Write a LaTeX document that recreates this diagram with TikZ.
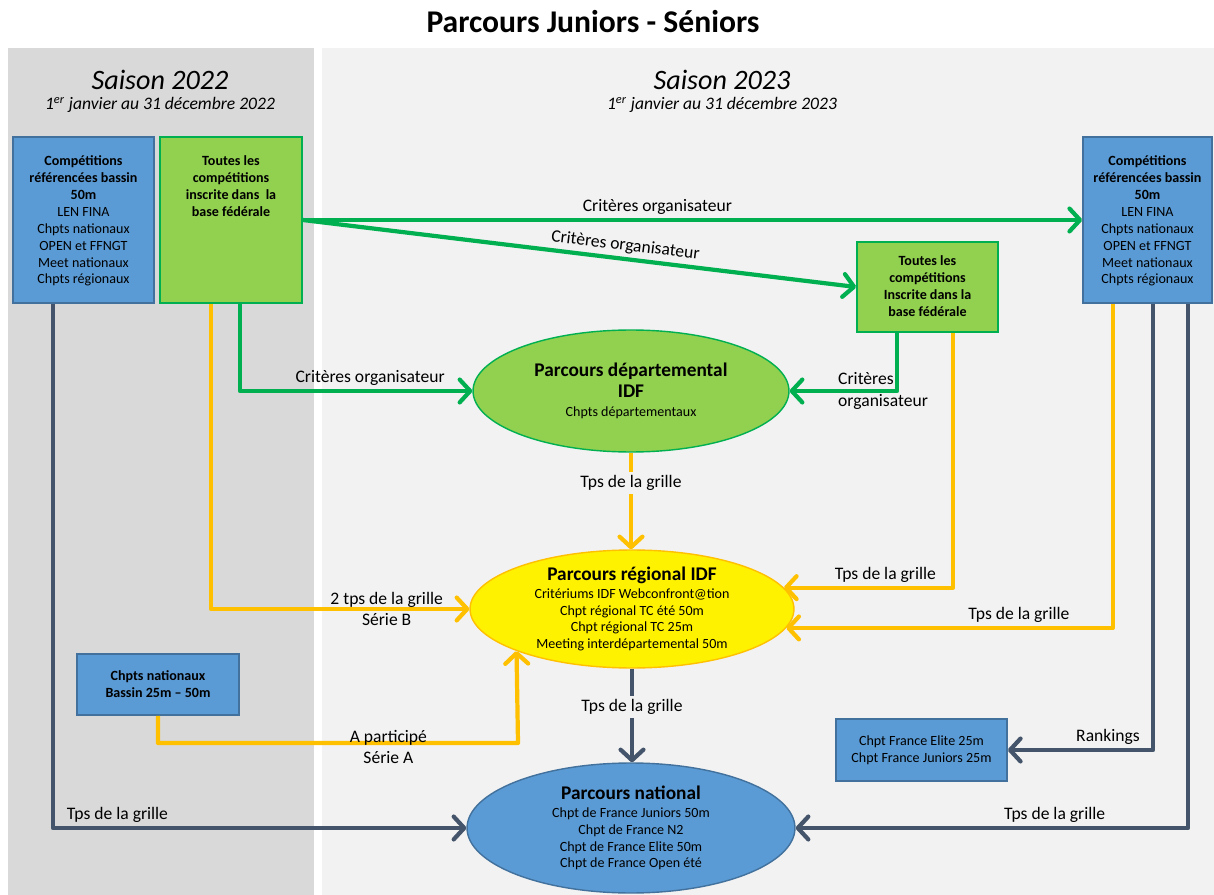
\documentclass[tikz,border=0pt]{standalone}
\usepackage{fontspec}
\setmainfont{Carlito}
\usetikzlibrary{calc}
\usetikzlibrary{arrows.meta}
\usetikzlibrary{shapes.geometric}

\definecolor{panelA}{HTML}{D9D9D9}
\definecolor{panelB}{HTML}{F2F2F2}
\definecolor{blueFill}{HTML}{5B9BD5}
\definecolor{blueLine}{HTML}{41719C}
\definecolor{greenFill}{HTML}{92D050}
\definecolor{greenLine}{HTML}{00B050}
\definecolor{orangeLine}{HTML}{FFC000}
\definecolor{slateLine}{HTML}{44546A}

\newcommand\boxfont{\fontsize{8}{9.6}\selectfont}
\newcommand\lblfont{\fontsize{10}{12}\selectfont}
\newcommand\ovalfont{\fontsize{11}{11.3}\selectfont\bfseries}

\tikzset{
  bluebox/.style={draw=blueLine, fill=blueFill, line width=1pt, inner sep=0pt},
  greenbox/.style={draw=greenLine, fill=greenFill, line width=1pt, inner sep=0pt},
  boxtext/.style={anchor=north, align=center, inner sep=0pt, font=\boxfont},
  oval/.style={ellipse, inner sep=0pt, line width=0.8pt},
  ovaltext/.style={align=center, inner sep=0pt, font=\boxfont},
  link/.style={line width=2.4pt, line join=round, -{Straight Barb[length=6pt,width=13pt,round]}},
  lbl/.style={font=\lblfont, text=black, inner sep=2pt},
}

\begin{document}
\begin{tikzpicture}[x=0.02cm, y=-0.02cm]

\useasboundingbox (0,0) rectangle (1214,895);
\fill[panelA] (8,48) rectangle (314,895);
\fill[panelB] (322,48) rectangle (1214,895);

\node (title) at (593,22) {\fontsize{18}{20}\selectfont\bfseries Parcours Juniors - Séniors};
\node (season22) at (160,80) {\fontsize{16}{18}\selectfont\itshape Saison 2022};
\node (dates22) at (160,105) {\lblfont\itshape 1\textsuperscript{er} janvier au 31 décembre 2022};
\node (season23) at (722,80) {\fontsize{16}{18}\selectfont\itshape Saison 2023};
\node (dates23) at (722,105) {\lblfont\itshape 1\textsuperscript{er} janvier au 31 décembre 2023};

\node[bluebox, minimum width=2.82cm, minimum height=3.32cm] (boxA) at (83.5,220) {};
\node[boxtext, yshift=-0.39cm] (boxAtxt) at (boxA.north) {\textbf{Compétitions}\\\textbf{référencées bassin}\\\textbf{50m}\\LEN FINA\\Chpts nationaux\\OPEN et FFNGT\\Meet nationaux\\Chpts régionaux};

\node[greenbox, minimum width=2.84cm, minimum height=3.32cm] (boxB) at (231,220) {};
\node[boxtext, font=\boxfont\bfseries, yshift=-0.39cm] (boxBtxt) at (boxB.north) {Toutes les\\compétitions\\inscrite dans~~la\\base fédérale};

\node[bluebox, minimum width=2.58cm, minimum height=3.32cm] (boxC) at (1147.5,220) {};
\node[boxtext, yshift=-0.39cm] (boxCtxt) at (boxC.north) {\textbf{Compétitions}\\\textbf{référencées bassin}\\\textbf{50m}\\LEN FINA\\Chpts nationaux\\OPEN et FFNGT\\Meet nationaux\\Chpts régionaux};

\node[greenbox, minimum width=2.82cm, minimum height=1.8cm] (boxD) at (927.5,287) {};
\node[boxtext, font=\boxfont\bfseries, yshift=-0.29cm] (boxDtxt) at (boxD.north) {Toutes les\\compétitions\\Inscrite dans la\\base fédérale};

\node[bluebox, minimum width=3.24cm, minimum height=1.22cm] (boxE) at (158,684.5) {};
\node[ovaltext, font=\boxfont\bfseries] (boxEtxt) at (boxE.center) {Chpts nationaux\\Bassin 25m -- 50m};

\node[bluebox, minimum width=3.42cm, minimum height=1.24cm] (boxF) at (921.5,750) {};
\node[ovaltext] (boxFtxt) at (boxF.center) {Chpt France Elite 25m\\Chpt France Juniors 25m};

\node[oval, draw=greenLine, fill=greenFill, minimum width=6.32cm, minimum height=2.44cm] (dep) at (631,391) {};
\node[ovaltext] (depTxt) at (dep.center) {{\ovalfont Parcours départemental}\\[2pt]{\ovalfont IDF}\\[1.5pt]Chpts départementaux};

\node[oval, draw=orangeLine, fill=yellow, minimum width=6.48cm, minimum height=2.36cm] (reg) at (632,609) {};
\node[ovaltext] (regTxt) at (reg.center) {{\ovalfont Parcours régional IDF}\\[0.6pt]Critériums IDF Webconfront@tion\\Chpt régional TC été 50m\\Chpt régional TC 25m\\Meeting interdépartemental 50m};

\node[oval, draw=blueLine, fill=blueFill, minimum width=6.56cm, minimum height=2.6cm] (nat) at (631,828) {};
\node[ovaltext] (natTxt) at (nat.center) {{\ovalfont Parcours national}\\[0.6pt]Chpt de France Juniors 50m\\Chpt de France N2\\Chpt de France Elite 50m\\Chpt de France Open été};

\draw[link, greenLine] (boxB.east) -- (boxC.west) node[lbl, above, pos=0.455] {Critères organisateur};
\draw[link, greenLine] (boxB.east) -- (boxD.west) node[lbl, above, sloped, pos=0.58] {Critères organisateur};
\draw[link, greenLine] ($(boxB.south)+(9,0)$) |- (dep.west) node[lbl, above, pos=0.78] {Critères organisateur};
\draw[link, greenLine] ($(boxD.south)+(-30.5,0)$) |- (dep.east) node[lbl, anchor=west, align=left, pos=0.8] {Critères\\organisateur};

\draw[link, orangeLine] (dep.south) -- (dep.south |- reg.north) node[lbl, fill=panelB, pos=0.31] {Tps de la grille};
\draw[link, orangeLine] ($(boxB.south)+(-20,0)$) |- (reg.west) node[lbl, align=center, pos=0.84] {2 tps de la grille\\Série B};
\draw[link, orangeLine] ($(boxD.south)+(25.5,0)$) |- (reg.8.3) node[lbl, above, pos=0.7] {Tps de la grille};
\draw[link, orangeLine] ($(boxC.south)+(-34.5,0)$) |- (reg.-7.9) node[lbl, above, pos=0.644] {Tps de la grille};
\coordinate (aPart) at (518,743);
\draw[link, orangeLine] (boxE.south) |- node[lbl, align=center, pos=0.82, yshift=-2.5pt] {A participé\\Série A} (aPart) -- (reg.200.2);

\draw[link, slateLine] ($(boxA.south)+(-30.5,0)$) |- (nat.west) node[lbl, above, pos=0.578] {Tps de la grille};
\draw[link, slateLine] (reg.south) -- (reg.south |- nat.north) node[lbl, fill=panelB, pos=0.41] {Tps de la grille};
\draw[link, slateLine] ($(boxC.south)+(5.5,0)$) |- (boxF.east) node[lbl, above, pos=0.655] {Rankings};
\draw[link, slateLine] ($(boxC.south)+(40.5,0)$) |- (nat.east) node[lbl, above, pos=0.67] {Tps de la grille};

\end{tikzpicture}
\end{document}
